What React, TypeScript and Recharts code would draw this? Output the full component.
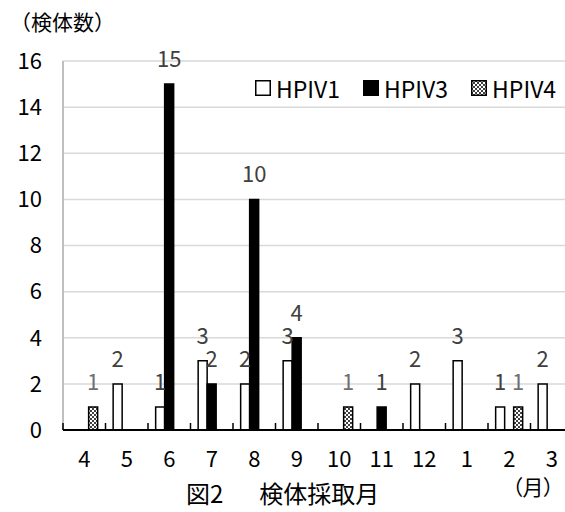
import { Bar, BarChart, CartesianGrid, LabelList, XAxis, YAxis } from "recharts";

const months = ["4", "5", "6", "7", "8", "9", "10", "11", "12", "1", "2", "3"];
const hpiv1 = [0, 2, 1, 3, 2, 3, 0, 0, 2, 3, 1, 2];
const hpiv3 = [0, 0, 15, 2, 10, 4, 0, 1, 0, 0, 0, 0];
const hpiv4 = [1, 0, 0, 0, 0, 0, 1, 0, 0, 0, 1, 0];
const yTicks = [0, 2, 4, 6, 8, 10, 12, 14, 16];

const FONT = '"Noto Sans CJK JP", "Noto Sans", sans-serif';
const W = 565;
const H = 512;

const data = months.map((month, i) => ({
  month,
  HPIV1: hpiv1[i],
  HPIV3: hpiv3[i],
  HPIV4: hpiv4[i],
}));

const series = [
  { key: "HPIV1", fill: "#fff", label: "#404040" },
  { key: "HPIV3", fill: "#000", label: "#404040" },
  { key: "HPIV4", fill: "url(#hpiv4Fill)", label: "#707070" },
];

// zero counts get no label
const hideZero = (v: any) => (v ? v : "");

// month label below the axis, small tick mark up at the left edge of each band
const MonthTick = (props: any) => {
  const { x, y, payload } = props;
  const half = payload?.offset ?? 21.25;
  return (
    <g>
      <line x1={x - half} x2={x - half} y1={y} y2={y - 7} stroke="#000" strokeWidth={1.5} />
      <text x={x} y={y + 37} textAnchor="middle" fontSize={22} fontFamily={FONT} fill="#000">
        {payload.value}
      </text>
    </g>
  );
};

const LegendIcon = ({ fill }: { fill: string }) => (
  <svg width={16} height={16} style={{ marginRight: 5 }}>
    <rect x={0.75} y={0.75} width={14.5} height={14.5} fill={fill} stroke="#000" strokeWidth={1.5} />
  </svg>
);

export default function App() {
  return (
    <div
      style={{
        position: "absolute",
        left: 0,
        top: 0,
        width: W,
        height: H,
        overflow: "hidden",
        background: "#fff",
        fontFamily: FONT,
        color: "#000",
      }}
    >
      <svg width={0} height={0} style={{ position: "absolute" }}>
        <defs>
          <pattern id="hpiv4Fill" width={4} height={4} patternUnits="userSpaceOnUse">
            <rect width={4} height={4} fill="#fff" />
            <rect width={2} height={2} fill="#404040" />
            <rect x={2} y={2} width={2} height={2} fill="#404040" />
          </pattern>
        </defs>
      </svg>

      <BarChart
        width={W}
        height={H}
        data={data}
        margin={{ top: 61, right: -8, bottom: 42, left: 0 }}
        barCategoryGap="18%"
        barGap={0}
      >
        <CartesianGrid vertical={false} stroke="#d9d9d9" strokeWidth={1.5} />
        <YAxis
          width={63}
          domain={[0, 16]}
          ticks={yTicks}
          interval={0}
          tickLine={false}
          tickSize={6}
          tickMargin={15}
          axisLine={{ stroke: "#bfbfbf", strokeWidth: 2 }}
          tick={{ fontSize: 22, fill: "#000", fontFamily: FONT }}
        />
        <XAxis
          dataKey="month"
          height={40}
          interval={0}
          tickLine={false}
          tickSize={0}
          tickMargin={0}
          axisLine={{ stroke: "#000", strokeWidth: 2 }}
          tick={<MonthTick />}
        />
        {series.map((s) => (
          <Bar
            key={s.key}
            dataKey={s.key}
            fill={s.fill}
            stroke="#000"
            strokeWidth={1.5}
            isAnimationActive={false}
          >
            <LabelList
              dataKey={s.key}
              position="top"
              offset={17}
              fill={s.label}
              fontSize={22}
              fontFamily={FONT}
              formatter={hideZero}
            />
          </Bar>
        ))}
      </BarChart>

      <div style={{ position: "absolute", left: 10, top: 9, fontSize: 21, lineHeight: "24px" }}>
        （検体数）
      </div>

      <div
        style={{
          position: "absolute",
          left: 255,
          top: 75,
          display: "flex",
          alignItems: "center",
          fontSize: 23,
          lineHeight: "26px",
          background: "#fff",
        }}
      >
        {series.map((s, i) => (
          <div key={s.key} style={{ display: "flex", alignItems: "center", marginLeft: i ? 23 : 0 }}>
            <LegendIcon fill={s.fill} />
            <span>{s.key}</span>
          </div>
        ))}
      </div>

      <div
        style={{
          position: "absolute",
          left: 186,
          top: 479,
          fontSize: 24,
          lineHeight: "28px",
          whiteSpace: "pre",
        }}
      >
        図2<span style={{ marginLeft: 36 }}>検体採取月</span>
      </div>
      <div
        style={{
          position: "absolute",
          left: 512,
          top: 476,
          fontSize: 21,
          lineHeight: "21px",
          whiteSpace: "nowrap",
          fontFeatureSettings: '"palt"',
        }}
      >
        （月）
      </div>
    </div>
  );
}
